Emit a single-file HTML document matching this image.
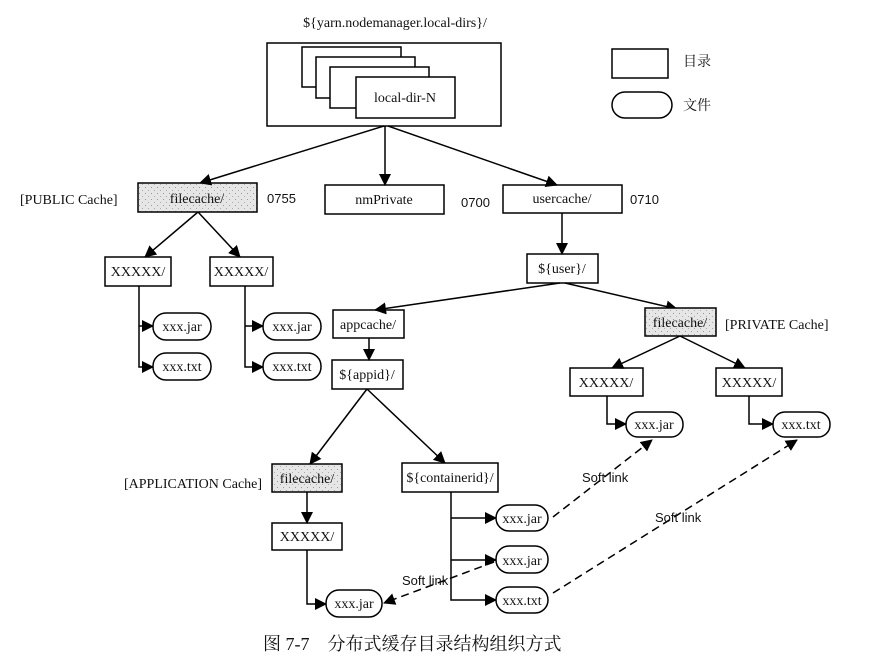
<!DOCTYPE html>
<html><head><meta charset="utf-8"><style>
html,body{margin:0;padding:0;background:#fff;}
svg{display:block;}
text{font-family:"Liberation Serif","Noto Serif CJK SC",serif;font-size:14px;fill:#111;}
.s{font-family:"Liberation Sans",sans-serif;font-size:13px;}
.c{font-family:"Liberation Serif","Noto Serif CJK SC","Noto Sans CJK SC",serif;font-size:18px;}
</style></head><body>
<svg width="869" height="660" viewBox="0 0 869 660" xmlns="http://www.w3.org/2000/svg">
<defs>
<marker id="a" markerWidth="12" markerHeight="12" refX="11" refY="6" orient="auto" markerUnits="userSpaceOnUse"><path d="M0,0 L12,6 L0,12 z" fill="#000"/></marker>
<pattern id="h" width="6" height="6" patternUnits="userSpaceOnUse"><rect width="6" height="6" fill="#e6e6e6"/><rect x="1" y="1" width="1" height="1" fill="#999"/><rect x="4" y="4" width="1" height="1" fill="#aaa"/></pattern>
</defs>
<g fill="none" stroke="#000" stroke-width="1.5">
<rect x="267" y="43" width="234" height="83" fill="#fff"/>
<rect x="302" y="47" width="99" height="40" fill="#fff"/>
<rect x="316" y="57" width="99" height="41" fill="#fff"/>
<rect x="330" y="67" width="99" height="41" fill="#fff"/>
<rect x="356" y="77" width="99" height="41" fill="#fff"/>
<rect x="612" y="49" width="56" height="29"/>
<rect x="612" y="92" width="60" height="26" rx="13"/>
<rect x="138" y="183" width="119" height="29" fill="url(#h)"/>
<rect x="325" y="185" width="119" height="29"/>
<rect x="503" y="185" width="119" height="28"/>
<line x1="384" y1="126" x2="200" y2="183" marker-end="url(#a)"/>
<line x1="385" y1="126" x2="385" y2="185" marker-end="url(#a)"/>
<line x1="388" y1="126" x2="557" y2="185" marker-end="url(#a)"/>
<rect x="105" y="257" width="66" height="29"/>
<rect x="210" y="257" width="63" height="29"/>
<line x1="198" y1="212" x2="145" y2="257" marker-end="url(#a)"/>
<line x1="198" y1="212" x2="240" y2="257" marker-end="url(#a)"/>
<polyline points="139,286 139,367 153,367" marker-end="url(#a)"/>
<line x1="139" y1="326" x2="153" y2="326" marker-end="url(#a)"/>
<rect x="153" y="313" width="58" height="27" rx="13"/>
<rect x="153" y="353" width="58" height="27" rx="13"/>
<polyline points="245,286 245,367 263,367" marker-end="url(#a)"/>
<line x1="245" y1="326" x2="263" y2="326" marker-end="url(#a)"/>
<rect x="263" y="313" width="58" height="27" rx="13"/>
<rect x="263" y="353" width="58" height="27" rx="13"/>
<line x1="562" y1="213" x2="562" y2="254" marker-end="url(#a)"/>
<rect x="527" y="254" width="71" height="29"/>
<line x1="560" y1="283" x2="375" y2="310" marker-end="url(#a)"/>
<line x1="565" y1="283" x2="677" y2="309" marker-end="url(#a)"/>
<rect x="333" y="310" width="71" height="28"/>
<line x1="369" y1="338" x2="369" y2="360" marker-end="url(#a)"/>
<rect x="332" y="360" width="71" height="29"/>
<rect x="645" y="308" width="71" height="28" fill="url(#h)"/>
<line x1="680" y1="336" x2="612" y2="368" marker-end="url(#a)"/>
<line x1="680" y1="336" x2="745" y2="368" marker-end="url(#a)"/>
<rect x="570" y="368" width="73" height="28"/>
<rect x="716" y="368" width="66" height="28"/>
<polyline points="607,396 607,424 626,424" marker-end="url(#a)"/>
<rect x="626" y="412" width="57" height="25" rx="12"/>
<polyline points="749,396 749,424 773,424" marker-end="url(#a)"/>
<rect x="773" y="412" width="57" height="25" rx="12"/>
<line x1="367" y1="389" x2="310" y2="464" marker-end="url(#a)"/>
<line x1="367" y1="389" x2="445" y2="463" marker-end="url(#a)"/>
<rect x="272" y="464" width="70" height="28" fill="url(#h)"/>
<rect x="402" y="463" width="96" height="29"/>
<line x1="307" y1="492" x2="307" y2="523" marker-end="url(#a)"/>
<rect x="272" y="523" width="70" height="27"/>
<polyline points="307,550 307,604 326,604" marker-end="url(#a)"/>
<rect x="326" y="590" width="56" height="27" rx="13"/>
<polyline points="451,492 451,600 496,600" marker-end="url(#a)"/>
<line x1="451" y1="518" x2="496" y2="518" marker-end="url(#a)"/>
<line x1="451" y1="560" x2="496" y2="560" marker-end="url(#a)"/>
<rect x="496" y="505" width="52" height="26" rx="13"/>
<rect x="496" y="546" width="52" height="27" rx="13"/>
<rect x="496" y="587" width="52" height="26" rx="13"/>
<g stroke-dasharray="8,5">
<line x1="553" y1="517" x2="652" y2="440" marker-end="url(#a)"/>
<line x1="553" y1="593" x2="797" y2="440" marker-end="url(#a)"/>
<line x1="494" y1="562" x2="384" y2="603" marker-end="url(#a)"/>
</g>
</g>
<g text-anchor="middle">
<text x="395" y="27">${yarn.nodemanager.local-dirs}/</text>
<text x="405" y="102">local-dir-N</text>
<text x="197" y="203">filecache/</text>
<text x="384" y="204">nmPrivate</text>
<text x="562" y="203">usercache/</text>
<text x="138" y="276">XXXXX/</text>
<text x="241" y="276">XXXXX/</text>
<text x="182" y="331">xxx.jar</text>
<text x="182" y="371">xxx.txt</text>
<text x="292" y="331">xxx.jar</text>
<text x="292" y="371">xxx.txt</text>
<text x="562" y="273">${user}/</text>
<text x="368" y="329">appcache/</text>
<text x="367" y="379">${appid}/</text>
<text x="680" y="327">filecache/</text>
<text x="606" y="387">XXXXX/</text>
<text x="749" y="387">XXXXX/</text>
<text x="654" y="429">xxx.jar</text>
<text x="801" y="429">xxx.txt</text>
<text x="307" y="483">filecache/</text>
<text x="450" y="482">${containerid}/</text>
<text x="307" y="541">XXXXX/</text>
<text x="354" y="608">xxx.jar</text>
<text x="522" y="523">xxx.jar</text>
<text x="522" y="565">xxx.jar</text>
<text x="522" y="605">xxx.txt</text>
</g>
<text x="20" y="204">[PUBLIC Cache]</text>
<text x="267" y="203" class="s">0755</text>
<text x="461" y="207" class="s">0700</text>
<text x="630" y="204" class="s">0710</text>
<text x="725" y="329">[PRIVATE Cache]</text>
<text x="124" y="488">[APPLICATION Cache]</text>
<text x="683" y="66">目录</text>
<text x="683" y="110">文件</text>
<text x="582" y="482" class="s">Soft link</text>
<text x="655" y="522" class="s">Soft link</text>
<text x="402" y="585" class="s">Soft link</text>
<text x="263" y="650" class="c">图 7-7　分布式缓存目录结构组织方式</text>
</svg>
</body></html>
